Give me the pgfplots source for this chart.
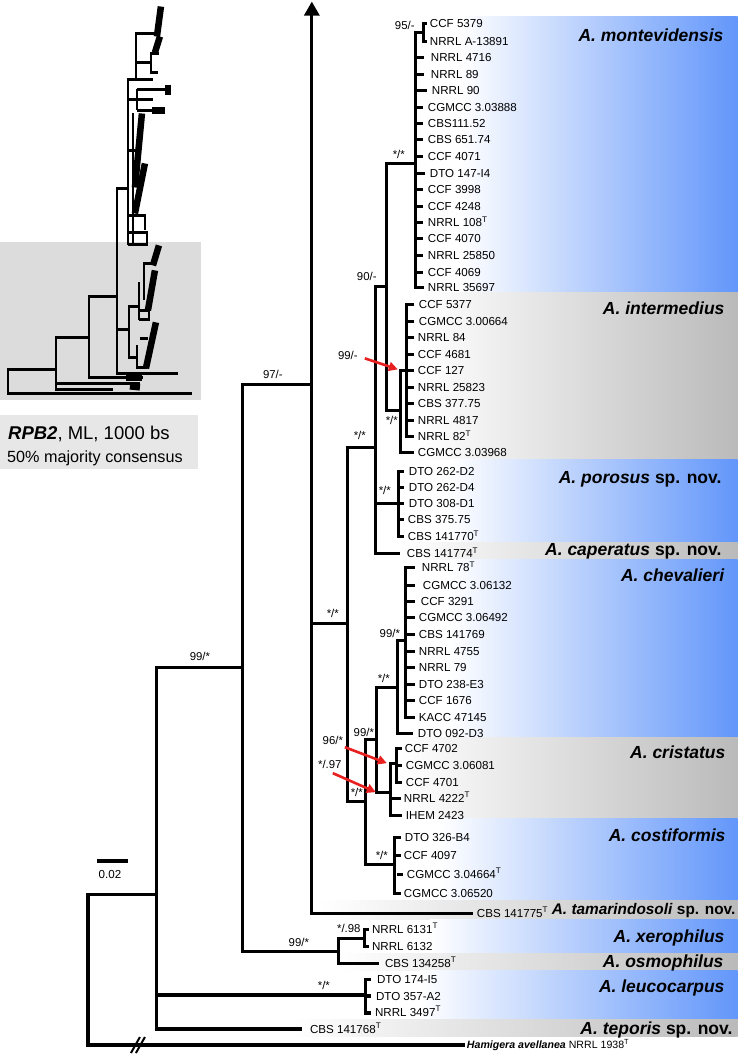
\documentclass[border=0pt]{standalone}
\usepackage{fontspec}
\setmainfont{Liberation Sans}
\usepackage{pgfplots}
\pgfplotsset{compat=1.18}
\usetikzlibrary{arrows.meta}
\definecolor{bandblue}{RGB}{98,150,250}
\definecolor{bandgray}{RGB}{186,186,186}
\definecolor{thumbgray}{RGB}{220,220,220}
\definecolor{boxgray}{RGB}{231,231,231}
\definecolor{arrred}{RGB}{232,32,32}
\newcommand{\tx}{\fontsize{11.6}{13}\selectfont}
\newcommand{\sv}{\fontsize{11.4}{12}\selectfont}
\newcommand{\spf}{\fontsize{17.5}{20}\selectfont\bfseries}
\newcommand{\tax}[3]{\node[anchor=base west,inner sep=0pt,font=\tx] at (axis cs:#1,#2+4.2) {#3};}
\newcommand{\supp}[3]{\node[anchor=center,inner sep=0pt,font=\sv] at (axis cs:#1,#2) {#3};}
\newcommand{\spc}[3]{\node[anchor=base east,inner sep=0pt,font=\spf] at (axis cs:#1,#2+6.3) {#3};}
\newcommand{\band}[4]{\addplot[draw=none,left color=white,right color=#4] coordinates {(#1,#2) (738,#2) (738,#3) (#1,#3)} -- cycle;}
\newcommand{\br}[1]{\addplot[black,line width=3.1pt,line join=miter] coordinates {#1};}
\newcommand{\tb}[1]{\addplot[black,line width=2.8pt,line join=miter] coordinates {#1};}
\newcommand{\tk}[1]{\addplot[black,line width=6.5pt] coordinates {#1};}
\newcommand{\T}{\textsuperscript{T}}
\begin{document}
\begin{tikzpicture}
\begin{axis}[x=1pt,y=1pt,xmin=0,xmax=738,ymin=0,ymax=1056,y dir=reverse,
  hide axis,clip=false,no markers]
% background
\addplot[draw=none,fill=white] coordinates {(0,0) (738,0) (738,1056) (0,1056)} -- cycle;
% thumbnail panels
\addplot[draw=none,fill=thumbgray] coordinates {(0,242) (201,242) (201,400) (0,400)} -- cycle;
\addplot[draw=none,fill=boxgray] coordinates {(0,415) (198,415) (198,469) (0,469)} -- cycle;
% bands
\band{460}{16}{292}{bandblue}
\band{420}{292}{459}{bandgray}
\band{450}{459}{542}{bandblue}
\band{400}{542}{559}{bandgray}
\band{450}{559}{737}{bandblue}
\band{400}{737}{818}{bandgray}
\band{440}{818}{900}{bandblue}
\band{320}{900}{919}{bandgray}
\band{430}{919}{953}{bandblue}
\band{340}{953}{970}{bandgray}
\band{420}{970}{1019}{bandblue}
\band{290}{1019}{1036}{bandgray}
% thumbnail tree
\tb{(192,393) (8,393) (8,369) (56,369)}
\tb{(89,337) (56,337) (56,389) (113,389)}
\tb{(56,383) (140,383)}
\tb{(117,296) (89,296) (89,377) (143,377)}
\tb{(128,188) (117,188) (117,373) (178,373)}
\tb{(117,329) (129,329)}
\tb{(140,306) (129,306) (129,357) (137,357)}
\tb{(137,345) (137,367) (147,367)}
\tb{(139,282) (139,320)}
\tb{(144,300) (144,263) (155,263)}
\tb{(139,310) (149,310) (149,319) (139,319)}
\tb{(140,338) (148,338)}
\tk{(159,245) (153,265)}
\tk{(155,270) (148,310)}
\tk{(156,322) (146,368)}
\tk{(126,377) (142,377)}
\tk{(130,386) (140,387)}
\tb{(136,79) (128,79) (128,245)}
\tb{(133,113) (133,245)}
\tb{(128,232) (147,232) (147,244) (128,244)}
\tb{(128,215) (145,215) (145,230)}
\tb{(136,79) (136,33) (155,33)}
\tk{(161,6) (157,36)}
\tk{(160,36) (155,52)}
\tb{(136,62) (151,62)}
\tb{(159,53) (151,53) (151,72) (158,72)}
\tb{(136,79) (153,79)}
\tb{(128,99) (137,99)}
\tb{(137,88) (137,110)}
\tb{(137,89) (168,89)}
\tk{(168,84) (168,95)}
\tb{(137,99) (153,99)}
\tb{(137,110) (155,110)}
\tk{(152,110) (165,110)}
\tk{(142,113) (135,187)}
\tk{(145,163) (135,213)}
\tb{(128,150) (140,150)}
% thumbnail caption
\node[anchor=base west,inner sep=0pt,font=\fontsize{18.5}{20}\selectfont] at (axis cs:8,439.5) {\textbf{\textit{RPB2}}, ML, 1000 bs};
\node[anchor=base west,inner sep=0pt,font=\fontsize{16.2}{18}\selectfont] at (axis cs:7,461.8) {50\% majority consensus};
% main tree
\br{(157,894) (88,894) (88,1045) (465,1045)}
\br{(243,667) (157,667) (157,1029) (302,1029)}
\br{(157,995) (366,995)}
\br{(371,979) (366,979) (366,1013) (371,1013)}
\br{(366,996) (371,996)}
\br{(312,384) (243,384) (243,951) (339,951)}
\br{(365,938) (339,938) (339,963) (379,963)}
\br{(369,929) (365,929) (365,946) (369,946)}
\addplot[black,line width=3.1pt,line join=miter,-{Triangle[width=15pt,length=14pt]}] coordinates {(473,913) (312,913) (312,1)};
\br{(312,623) (348,623)}
\br{(376,447) (348,447) (348,801) (366,801)}
\br{(377,739) (366,739) (366,864) (395,864)}
\br{(398,687) (377,687) (377,792) (391,792)}
\br{(406,640) (398,640) (398,733) (413,733)}
\br{(415,567) (406,567) (406,717) (415,717)}
\br{(406,585) (415,585)}
\br{(406,601) (415,601)}
\br{(406,617) (415,617)}
\br{(406,634) (415,634)}
\br{(406,651) (415,651)}
\br{(406,667) (415,667)}
\br{(406,684) (415,684)}
\br{(406,700) (415,700)}
\br{(397,763) (391,763) (391,815) (402,815)}
\br{(391,798) (401,798)}
\br{(402,748) (397,748) (397,782) (402,782)}
\br{(397,765) (402,765)}
\br{(401,837) (395,837) (395,893) (401,893)}
\br{(395,855) (401,855)}
\br{(397,874) (403,874)}
\br{(387,286) (376,286) (376,553) (400,553)}
\br{(376,503) (399,503)}
\br{(404,471) (399,471) (399,536) (404,536)}
\br{(399,487) (404,487)}
\br{(399,503) (404,503)}
\br{(399,519) (404,519)}
\br{(416,163) (387,163) (387,410) (401,410)}
\br{(407,370) (401,370) (401,452) (414,452)}
\br{(414,304) (407,304) (407,436) (414,436)}
\br{(407,321) (414,321)}
\br{(407,337) (414,337)}
\br{(407,354) (414,354)}
\br{(407,370) (414,370)}
\br{(407,387) (414,387)}
\br{(407,403) (414,403)}
\br{(407,420) (414,420)}
\br{(424,32) (416,32) (416,287) (424,287)}
\br{(427,23) (424,23) (424,41) (427,41)}
\br{(416,57) (424,57)}
\br{(416,74) (424,74)}
\br{(416,90) (427,90)}
\br{(416,107) (423,107)}
\br{(416,123) (423,123)}
\br{(416,139) (423,139)}
\br{(416,156) (423,156)}
\br{(416,173) (425,173)}
\br{(416,189) (423,189)}
\br{(416,206) (423,206)}
\br{(416,222) (423,222)}
\br{(416,238) (423,238)}
\br{(416,255) (423,255)}
\br{(416,272) (423,272)}
% break marks and scale bar
\addplot[black,line width=2pt] coordinates {(131,1053) (140,1037)};
\addplot[black,line width=2pt] coordinates {(136,1053) (145,1037)};
\addplot[black,line width=4pt] coordinates {(97,861) (128,861)};
\node[anchor=center,inner sep=0pt,font=\tx] at (axis cs:110,874) {0.02};
% red arrows
\addplot[arrred,line width=2.6pt,-{Triangle[width=9pt,length=9pt]}] coordinates {(365,358) (398,369)};
\addplot[arrred,line width=2.6pt,-{Triangle[width=9pt,length=9pt]}] coordinates {(345,747) (387,763)};
\addplot[arrred,line width=2.6pt,-{Triangle[width=9pt,length=9pt]}] coordinates {(333,773) (376,792)};
% taxa
\tax{430}{23}{CCF 5379}
\tax{430}{41}{NRRL A-13891}
\tax{431}{57}{NRRL 4716}
\tax{431}{74}{NRRL 89}
\tax{432}{90}{NRRL 90}
\tax{428}{107}{CGMCC 3.03888}
\tax{428}{123}{CBS111.52}
\tax{428}{139}{CBS 651.74}
\tax{428}{156}{CCF 4071}
\tax{430}{173}{DTO 147-I4}
\tax{428}{189}{CCF 3998}
\tax{428}{206}{CCF 4248}
\tax{428}{222}{NRRL 108\T}
\tax{428}{238}{CCF 4070}
\tax{428}{255}{NRRL 25850}
\tax{428}{272}{CCF 4069}
\tax{428}{287}{NRRL 35697}
\tax{419}{304}{CCF 5377}
\tax{419}{321}{CGMCC 3.00664}
\tax{418}{337}{NRRL 84}
\tax{418}{354}{CCF 4681}
\tax{418}{370}{CCF 127}
\tax{418}{387}{NRRL 25823}
\tax{418}{403}{CBS 377.75}
\tax{418}{420}{NRRL 4817}
\tax{418}{436}{NRRL 82\T}
\tax{418}{452}{CGMCC 3.03968}
\tax{409}{471}{DTO 262-D2}
\tax{409}{487}{DTO 262-D4}
\tax{409}{503}{DTO 308-D1}
\tax{408}{519}{CBS 375.75}
\tax{408}{536}{CBS 141770\T}
\tax{407}{553}{CBS 141774\T}
\tax{422}{567}{NRRL 78\T}
\tax{423}{585}{CGMCC 3.06132}
\tax{421}{601}{CCF 3291}
\tax{419}{617}{CGMCC 3.06492}
\tax{419}{634}{CBS 141769}
\tax{419}{651}{NRRL 4755}
\tax{419}{667}{NRRL 79}
\tax{419}{684}{DTO 238-E3}
\tax{419}{700}{CCF 1676}
\tax{419}{717}{KACC 47145}
\tax{418}{733}{DTO 092-D3}
\tax{405}{748}{CCF 4702}
\tax{406}{765}{CGMCC 3.06081}
\tax{406}{782}{CCF 4701}
\tax{404}{798}{NRRL 4222\T}
\tax{406}{815}{IHEM 2423}
\tax{405}{837}{DTO 326-B4}
\tax{404}{855}{CCF 4097}
\tax{407}{874}{CGMCC 3.04664\T}
\tax{404}{893}{CGMCC 3.06520}
\tax{477}{913}{CBS 141775\T}
\tax{372}{929}{NRRL 6131\T}
\tax{372}{946}{NRRL 6132}
\tax{385}{963}{CBS 134258\T}
\tax{377}{979}{DTO 174-I5}
\tax{376}{996}{DTO 357-A2}
\tax{375}{1012}{NRRL 3497\T}
\tax{310}{1029}{CBS 141768\T}
\node[anchor=base west,inner sep=0pt,font=\fontsize{10.6}{12}\selectfont] at (axis cs:467,1048.8) {\textbf{\textit{Hamigera avellanea}} NRRL 1938\T};
% support values
\supp{405}{25}{95/-}
\supp{399}{154}{*/*}
\supp{367}{276}{90/-}
\supp{348}{355}{99/-}
\supp{392}{420}{*/*}
\supp{360}{435}{*/*}
\supp{385}{490}{*/*}
\supp{333}{613}{*/*}
\supp{390}{633}{99/*}
\supp{384}{678}{*/*}
\supp{364}{732}{99/*}
\supp{333}{740}{96/*}
\supp{330}{764}{*/.97}
\supp{357}{792}{*/*}
\supp{382}{855}{*/*}
\supp{273}{374}{97/-}
\supp{200}{656}{99/*}
\supp{299}{942}{99/*}
\supp{349}{928}{*/.98}
\supp{324}{985}{*/*}
% species
\spc{724}{35}{\textit{A. montevidensis}}
\spc{725}{308}{\textit{A. intermedius}}
\spc{722}{477}{\textit{A. porosus} sp. nov.}
\spc{722}{549}{\textit{A. caperatus} sp. nov.}
\spc{725}{575}{\textit{A. chevalieri}}
\spc{726}{752}{\textit{A. cristatus}}
\spc{726}{835}{\textit{A. costiformis}}
\node[anchor=base east,inner sep=0pt,font=\fontsize{15.4}{17}\selectfont\bfseries] at (axis cs:736,914.5) {\textit{A. tamarindosoli} sp. nov.};
\spc{725}{936}{\textit{A. xerophilus}}
\spc{724}{961}{\textit{A. osmophilus}}
\spc{725}{986}{\textit{A. leucocarpus}}
\spc{733}{1028}{\textit{A. teporis} sp. nov.}
\end{axis}
\end{tikzpicture}
\end{document}
